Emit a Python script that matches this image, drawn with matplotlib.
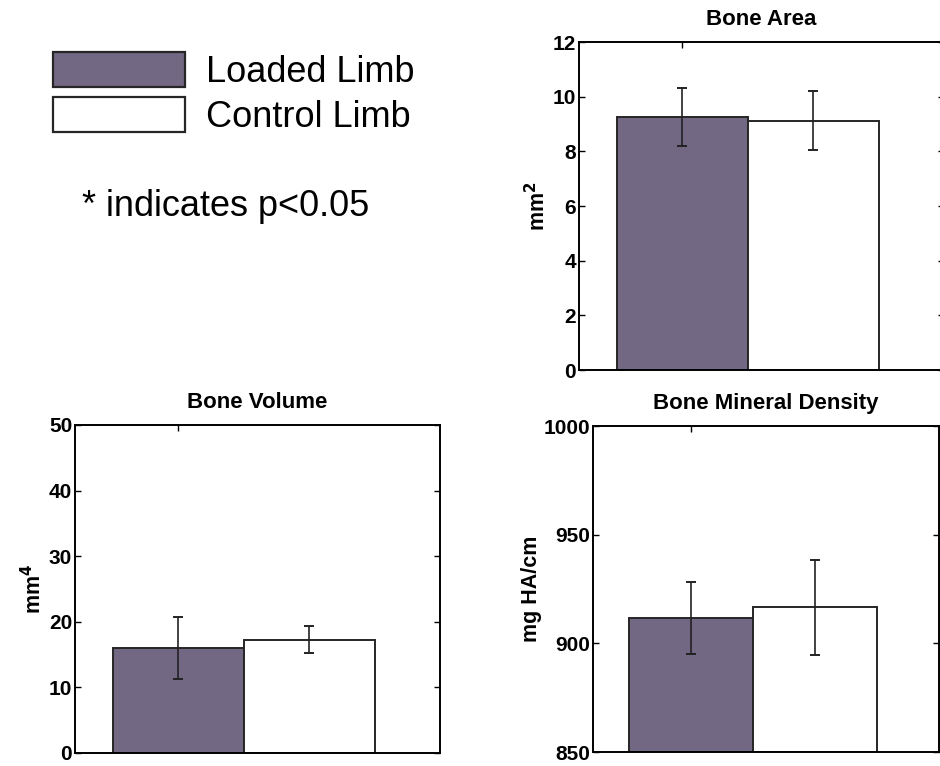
import numpy as np
import matplotlib
matplotlib.use("Agg")
import matplotlib.pyplot as plt
from matplotlib.patches import Patch

plt.rcParams['font.family'] = ['Liberation Sans', 'DejaVu Sans']

# group means and standard deviations (loaded, control)
groups = ["Loaded Limb", "Control Limb"]
area_mean = [9.25, 9.12]
area_err = [1.05, 1.07]
volume_mean = [16.0, 17.3]
volume_err = [4.7, 2.0]
bmd_mean = [911.5, 916.5]
bmd_err = [16.5, 22.0]

LOADED = "#736883"
CONTROL = "#ffffff"
EDGE = "#262626"

W, H = 940, 766


def rect(left, top, width, height):
    # pixel box (from top-left) -> figure fraction
    return [left / W, 1 - (top + height) / H, width / W, height / H]


def barPanel(ax, means, errs, title, ylabel, ylim, yticks, labelpad=6):
    x = np.arange(len(means))
    heights = [m - ylim[0] for m in means]
    ax.bar(x, heights, bottom=ylim[0], width=1.0, color=[LOADED, CONTROL],
           edgecolor=EDGE, linewidth=1.4, zorder=2)
    ax.errorbar(x, means, yerr=errs, fmt="none", ecolor="#222222",
                elinewidth=1.2, capsize=3.5, capthick=1.4, zorder=3)
    ax.set_xlim(-0.79, 2.0)
    ax.set_ylim(*ylim)
    ax.set_yticks(yticks)
    ax.set_xticks([0])
    ax.set_xticklabels([])
    ax.tick_params(direction="in", length=4, width=1, left=True, right=True,
                   top=True, bottom=True, labelsize=15, pad=2)
    for lab in ax.get_yticklabels():
        lab.set_fontweight("bold")
    for s in ax.spines.values():
        s.set_linewidth(1.4)
        s.set_color("black")
    ax.set_title(title, fontsize=16, fontweight="bold", pad=12)
    ax.set_ylabel(ylabel, fontsize=15.5, fontweight="bold", labelpad=labelpad)


fig = plt.figure(figsize=(W / 100, H / 100), dpi=100)

ax1 = fig.add_axes(rect(579, 42, 365, 328))
barPanel(ax1, area_mean, area_err, "Bone Area", r"mm$^\mathbf{2}$",
         (0, 12), np.arange(0, 13, 2), labelpad=2)

ax2 = fig.add_axes(rect(75, 425, 365, 328))
barPanel(ax2, volume_mean, volume_err, "Bone Volume", r"mm$^\mathbf{4}$",
         (0, 50), np.arange(0, 51, 10), labelpad=2)

ax3 = fig.add_axes(rect(593, 426, 346, 326))
barPanel(ax3, bmd_mean, bmd_err, "Bone Mineral Density", "mg HA/cm",
         (850, 1000), np.arange(850, 1001, 50), labelpad=1)

handles = [Patch(facecolor=LOADED, edgecolor=EDGE, linewidth=1.6),
           Patch(facecolor=CONTROL, edgecolor=EDGE, linewidth=1.6)]
fig.legend(handles, groups, loc="upper left",
           bbox_to_anchor=(53 / W, 1 - 52 / H), frameon=False,
           fontsize=26, handlelength=3.65, handleheight=1.12,
           handletextpad=0.6, labelspacing=0.2, borderpad=0,
           borderaxespad=0)

fig.text(82 / W, 1 - 207 / H, "* indicates p<0.05", fontsize=26,
         ha="left", va="center")

fig.savefig("out.png", dpi=100)
